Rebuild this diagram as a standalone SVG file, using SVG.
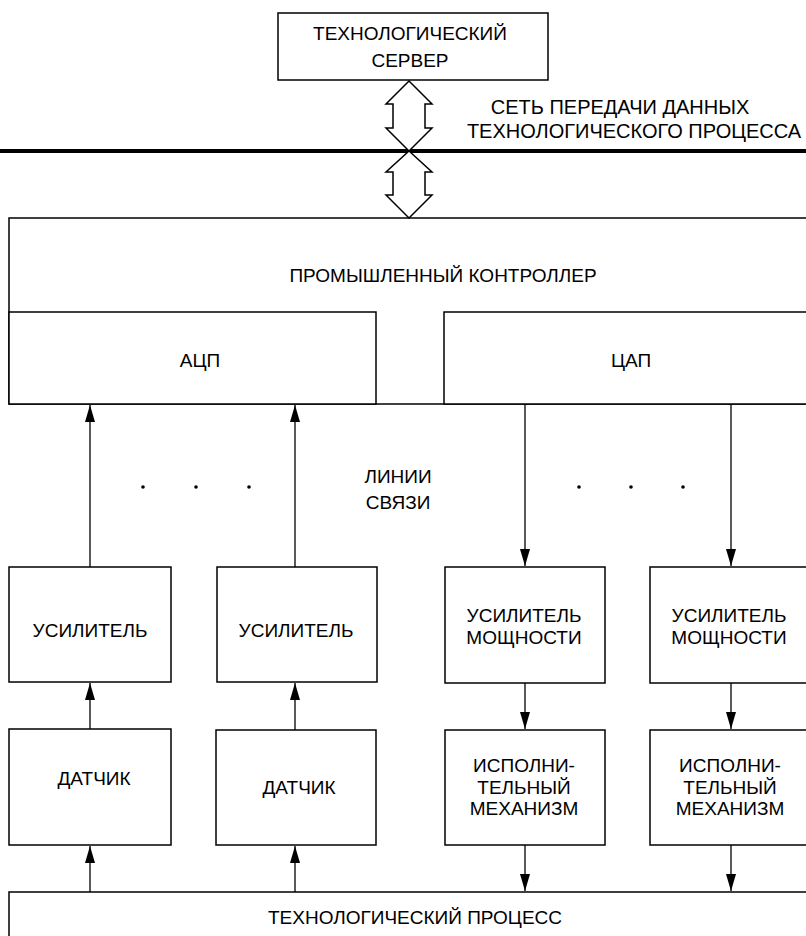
<svg xmlns="http://www.w3.org/2000/svg" width="806" height="936" viewBox="0 0 806 936">
<style>
.box{fill:#fff;stroke:#000;stroke-width:1.5}
.t{font-family:"Liberation Sans",Arial,sans-serif;font-size:19px;fill:#000;text-anchor:middle}
.lbl{font-size:20px}
.ln{stroke:#000;stroke-width:1.3;fill:none}
.dbl{fill:#fff;stroke:#000;stroke-width:1.5;stroke-linejoin:miter}
</style>
<defs>
<marker id="ah" viewBox="0 0 17 10" refX="17" refY="5" markerWidth="17" markerHeight="10" orient="auto" markerUnits="userSpaceOnUse">
<path d="M0,0 L17,5 L0,10 Z" fill="#000"/>
</marker>
</defs>
<rect width="806" height="936" fill="#fff"/>

<g id="server">
<rect class="box" x="278" y="13" width="270" height="67"/>
<text class="t" x="410" y="40">ТЕХНОЛОГИЧЕСКИЙ</text>
<text class="t" x="410" y="67">СЕРВЕР</text>
</g>

<g id="network">
<line x1="0" y1="151" x2="806" y2="151" stroke="#000" stroke-width="4"/>
<text class="t lbl" x="620" y="114">СЕТЬ ПЕРЕДАЧИ ДАННЫХ</text>
<text class="t lbl" x="634" y="138">ТЕХНОЛОГИЧЕСКОГО ПРОЦЕССА</text>
</g>

<g id="controller">
<rect class="box" x="9" y="218" width="810" height="186"/>
<text class="t" x="443" y="282">ПРОМЫШЛЕННЫЙ КОНТРОЛЛЕР</text>
</g>
<g id="adc">
<rect class="box" x="9" y="312" width="367" height="92"/>
<text class="t" x="200" y="367">АЦП</text>
</g>
<g id="dac">
<rect class="box" x="444" y="312" width="375" height="92"/>
<text class="t" x="631" y="367">ЦАП</text>
</g>

<g id="amp1">
<rect class="box" x="9" y="567" width="162" height="115"/>
<text class="t" x="90" y="637">УСИЛИТЕЛЬ</text>
</g>
<g id="amp2">
<rect class="box" x="217" y="567" width="160" height="115"/>
<text class="t" x="296" y="637">УСИЛИТЕЛЬ</text>
</g>
<g id="pamp1">
<rect class="box" x="445" y="567" width="160" height="116"/>
<text class="t" x="524" y="622">УСИЛИТЕЛЬ</text>
<text class="t" x="524" y="644">МОЩНОСТИ</text>
</g>
<g id="pamp2">
<rect class="box" x="650" y="567" width="170" height="116"/>
<text class="t" x="729" y="622">УСИЛИТЕЛЬ</text>
<text class="t" x="729" y="644">МОЩНОСТИ</text>
</g>

<g id="sensor1">
<rect class="box" x="9" y="729" width="162" height="116"/>
<text class="t" x="94" y="785">ДАТЧИК</text>
</g>
<g id="sensor2">
<rect class="box" x="216" y="730" width="160" height="115"/>
<text class="t" x="299" y="794">ДАТЧИК</text>
</g>
<g id="act1">
<rect class="box" x="445" y="730" width="160" height="115"/>
<text class="t" x="524" y="772">ИСПОЛНИ-</text>
<text class="t" x="524" y="794">ТЕЛЬНЫЙ</text>
<text class="t" x="524" y="815">МЕХАНИЗМ</text>
</g>
<g id="act2">
<rect class="box" x="650" y="730" width="170" height="115"/>
<text class="t" x="730" y="772">ИСПОЛНИ-</text>
<text class="t" x="730" y="794">ТЕЛЬНЫЙ</text>
<text class="t" x="730" y="815">МЕХАНИЗМ</text>
</g>

<g id="process">
<rect class="box" x="9" y="892" width="810" height="60"/>
<text class="t" x="415" y="924">ТЕХНОЛОГИЧЕСКИЙ ПРОЦЕСС</text>
</g>

<g id="links-label">
<text class="t" x="398" y="483">ЛИНИИ</text>
<text class="t" x="398" y="509">СВЯЗИ</text>
<circle cx="143" cy="487" r="1.8"/>
<circle cx="196" cy="487" r="1.8"/>
<circle cx="249" cy="487" r="1.8"/>
<circle cx="579" cy="487" r="1.8"/>
<circle cx="631" cy="487" r="1.8"/>
<circle cx="683" cy="487" r="1.8"/>
</g>

<g id="connectors">
<path class="dbl" d="M409,81 L432,104 L425,104 L425,128 L432,128 L409,151 L386,128 L393,128 L393,104 L386,104 Z"/>
<path class="dbl" d="M409,151 L432,172 L425,172 L425,195 L432,195 L409,218 L386,195 L393,195 L393,172 L386,172 Z"/>
<line class="ln" x1="90" y1="567" x2="90" y2="405" marker-end="url(#ah)"/>
<line class="ln" x1="295" y1="567" x2="295" y2="405" marker-end="url(#ah)"/>
<line class="ln" x1="525" y1="404" x2="525" y2="566" marker-end="url(#ah)"/>
<line class="ln" x1="731" y1="404" x2="731" y2="566" marker-end="url(#ah)"/>
<line class="ln" x1="90" y1="729" x2="90" y2="683" marker-end="url(#ah)"/>
<line class="ln" x1="295" y1="730" x2="295" y2="683" marker-end="url(#ah)"/>
<line class="ln" x1="525" y1="683" x2="525" y2="729" marker-end="url(#ah)"/>
<line class="ln" x1="731" y1="683" x2="731" y2="729" marker-end="url(#ah)"/>
<line class="ln" x1="90" y1="892" x2="90" y2="846" marker-end="url(#ah)"/>
<line class="ln" x1="295" y1="892" x2="295" y2="846" marker-end="url(#ah)"/>
<line class="ln" x1="525" y1="845" x2="525" y2="891" marker-end="url(#ah)"/>
<line class="ln" x1="731" y1="845" x2="731" y2="891" marker-end="url(#ah)"/>
</g>
</svg>
